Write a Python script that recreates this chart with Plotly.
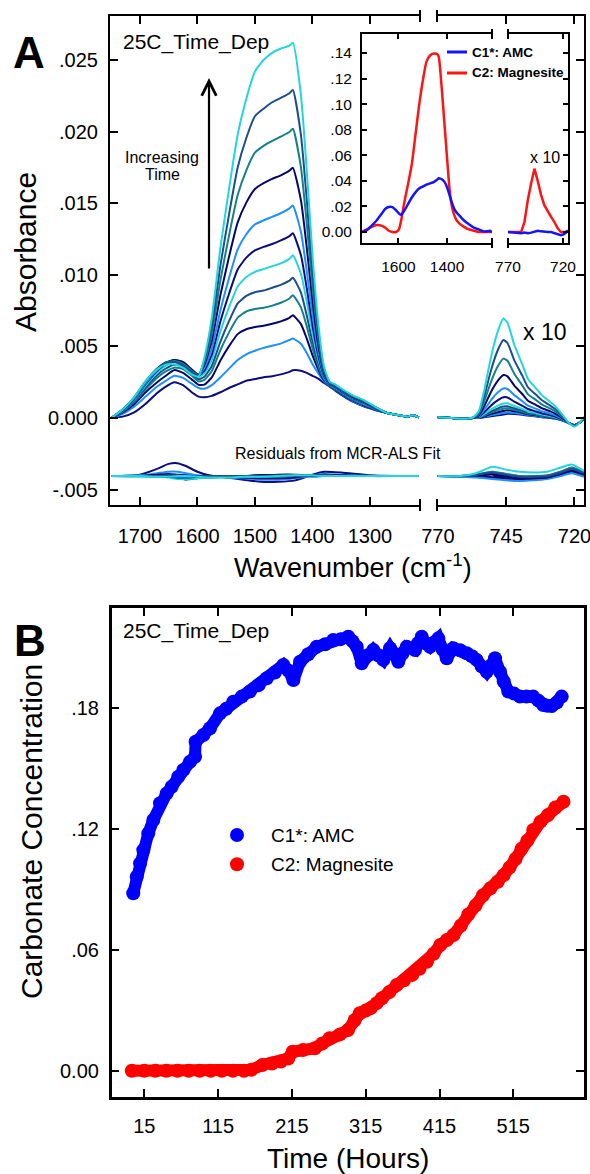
import plotly.graph_objects as go

# ---------------- data ----------------
# Panel A, left segment wavenumbers (cm-1)
WN_LEFT = [1750, 1730, 1710, 1690, 1670, 1655, 1640, 1625, 1610, 1598, 1588, 1575, 1560, 1545,
           1530, 1515, 1500, 1485, 1470, 1455, 1440, 1434, 1420, 1410, 1400, 1390, 1380, 1370,
           1360, 1345, 1330, 1310, 1290, 1270, 1250, 1235, 1225, 1215]
# Panel A, right segment wavenumbers (cm-1), shown x 10
WN_RIGHT = [770, 765, 760, 757, 755, 753, 750.5, 748, 746, 744.5, 742, 739, 737, 734, 732, 729,
            727, 724, 722, 720, 718, 716.5]

# spectra (absorbance x 1000), increasing time
L01 = [0.0, 0.1, 0.4, 1.0, 1.75, 2.2, 2.5, 2.3, 1.8, 1.5, 1.45, 1.55, 1.8, 2.1, 2.35, 2.6, 2.72, 2.85, 2.92, 3.05, 3.22, 3.34, 3.3, 3.15, 2.95, 2.75, 2.45, 2.2, 1.9, 1.5, 1.15, 0.8, 0.55, 0.35, 0.2, 0.1, 0.2, 0.05]
L02 = [0, 0.3, 0.8, 1.5, 2.2, 2.6, 2.95, 2.8, 2.4, 2.1, 2.05, 2.3, 2.85, 3.45, 4.05, 4.45, 4.7, 4.9, 5.05, 5.2, 5.45, 5.55, 5.19, 4.55, 3.78, 3.13, 2.56, 2.23, 1.94, 1.54, 1.19, 0.84, 0.57, 0.35, 0.2, 0.1, 0.2, 0.05]
L03 = [0, 0.4, 0.97, 1.8, 2.5, 2.95, 3.35, 3.15, 2.7, 2.32, 2.33, 2.84, 4.02, 5.02, 5.86, 6.2, 6.35, 6.45, 6.58, 6.75, 7.0, 7.18, 6.56, 5.56, 4.39, 3.41, 2.64, 2.26, 1.98, 1.58, 1.23, 0.88, 0.59, 0.35, 0.2, 0.1, 0.2, 0.05]
L04 = [0, 0.46, 1.1, 2.01, 2.82, 3.26, 3.52, 3.42, 2.97, 2.56, 2.66, 3.28, 4.75, 5.98, 7.01, 7.44, 7.61, 7.7, 7.85, 8.05, 8.35, 8.57, 7.73, 6.42, 4.9, 3.65, 2.71, 2.28, 2.02, 1.62, 1.27, 0.92, 0.61, 0.35, 0.2, 0.1, 0.2, 0.05]
L05 = [0, 0.49, 1.17, 2.14, 3.0, 3.46, 3.72, 3.61, 3.14, 2.71, 2.88, 3.64, 5.34, 6.77, 8.0, 8.53, 8.78, 8.9, 9.1, 9.3, 9.59, 9.8, 8.76, 7.18, 5.36, 3.86, 2.78, 2.3, 2.06, 1.66, 1.31, 0.96, 0.63, 0.35, 0.2, 0.1, 0.2, 0.05]
L06 = [0, 0.52, 1.25, 2.28, 3.18, 3.66, 3.92, 3.8, 3.3, 2.87, 3.12, 4.05, 6.06, 7.74, 9.19, 9.85, 10.21, 10.4, 10.6, 10.8, 11.11, 11.36, 10.07, 8.15, 5.93, 4.12, 2.85, 2.32, 2.1, 1.7, 1.35, 1.0, 0.65, 0.35, 0.2, 0.1, 0.2, 0.05]
L07 = [0, 0.54, 1.31, 2.38, 3.3, 3.78, 4.03, 3.9, 3.38, 2.97, 3.31, 4.42, 6.75, 8.68, 10.37, 11.2, 11.7, 11.95, 12.15, 12.4, 12.7, 12.9, 11.36, 9.1, 6.5, 4.38, 2.93, 2.34, 2.14, 1.74, 1.39, 1.04, 0.67, 0.35, 0.2, 0.1, 0.2, 0.05]
L08 = [0, 0.56, 1.34, 2.44, 3.36, 3.83, 4.05, 3.9, 3.38, 3.0, 3.48, 4.83, 7.53, 9.78, 11.77, 12.83, 13.52, 13.8, 14.05, 14.3, 14.64, 14.84, 12.99, 10.3, 7.22, 4.71, 3.03, 2.37, 2.18, 1.78, 1.43, 1.08, 0.69, 0.35, 0.2, 0.1, 0.2, 0.05]
L09 = [0, 0.57, 1.39, 2.52, 3.44, 3.88, 4.06, 3.9, 3.38, 3.04, 3.7, 5.38, 8.59, 11.27, 13.66, 15.04, 15.99, 16.4, 16.7, 16.95, 17.27, 17.47, 15.2, 11.94, 8.19, 5.16, 3.16, 2.41, 2.22, 1.82, 1.47, 1.12, 0.71, 0.35, 0.2, 0.1, 0.2, 0.05]
L10 = [0, 0.59, 1.41, 2.54, 3.44, 3.86, 3.99, 3.8, 3.3, 3.01, 3.87, 5.89, 9.63, 12.75, 15.57, 17.3, 18.53, 19.0, 19.35, 19.65, 19.97, 20.2, 17.5, 13.63, 9.2, 5.62, 3.3, 2.45, 2.26, 1.86, 1.51, 1.16, 0.73, 0.35, 0.2, 0.1, 0.2, 0.05]
L11 = [0, 0.6, 1.44, 2.57, 3.44, 3.83, 3.91, 3.7, 3.22, 2.98, 4.03, 6.4, 10.67, 14.22, 17.49, 19.55, 21.07, 21.6, 22.05, 22.35, 22.68, 22.9, 19.76, 15.3, 10.2, 6.08, 3.43, 2.49, 2.3, 1.9, 1.55, 1.2, 0.75, 0.35, 0.2, 0.1, 0.2, 0.05]
L12 = [0, 0.59, 1.44, 2.57, 3.4, 3.73, 3.74, 3.52, 3.05, 2.9, 4.2, 7.0, 11.9, 16.0, 19.8, 22.3, 24.2, 25.0, 25.5, 25.8, 26.0, 26.2, 22.54, 17.35, 11.42, 6.64, 3.6, 2.54, 2.34, 1.94, 1.59, 1.24, 0.77, 0.35, 0.2, 0.1, 0.2, 0.05]

R01 = [0.05, 0, -0.05, 0, 0, 0.06, 0.13, 0.19, 0.25, 0.3, 0.29, 0.23, 0.17, 0.11, 0.06, 0.01, -0.04, -0.2, -0.35, -0.5, -0.3, -0.05]
R02 = [0.05, 0, -0.05, 0, 0.01, 0.09, 0.19, 0.28, 0.35, 0.39, 0.36, 0.28, 0.21, 0.14, 0.08, 0.03, -0.03, -0.19, -0.35, -0.5, -0.3, -0.05]
R03 = [0.05, 0, -0.05, 0, 0.02, 0.13, 0.29, 0.41, 0.5, 0.54, 0.47, 0.36, 0.26, 0.19, 0.12, 0.05, -0.01, -0.18, -0.35, -0.5, -0.3, -0.05]
R04 = [0.05, 0, -0.05, 0, 0.03, 0.18, 0.38, 0.55, 0.65, 0.68, 0.57, 0.43, 0.32, 0.23, 0.15, 0.08, 0.01, -0.18, -0.35, -0.5, -0.3, -0.05]
R05 = [0.05, 0, -0.05, 0.01, 0.04, 0.22, 0.47, 0.68, 0.8, 0.82, 0.68, 0.51, 0.38, 0.27, 0.19, 0.1, 0.03, -0.17, -0.35, -0.5, -0.3, -0.05]
R06 = [0.05, 0, -0.05, 0.01, 0.06, 0.28, 0.61, 0.87, 1.02, 1.03, 0.84, 0.63, 0.46, 0.34, 0.24, 0.14, 0.06, -0.16, -0.35, -0.5, -0.3, -0.05]
R07 = [0.05, 0, -0.05, 0.01, 0.09, 0.4, 0.88, 1.25, 1.45, 1.44, 1.15, 0.85, 0.63, 0.46, 0.34, 0.21, 0.11, -0.14, -0.35, -0.5, -0.3, -0.05]
R08 = [0.05, 0, -0.05, 0.02, 0.13, 0.57, 1.26, 1.8, 2.07, 2.03, 1.6, 1.17, 0.86, 0.64, 0.48, 0.32, 0.19, -0.11, -0.35, -0.5, -0.3, -0.05]
R09 = [0.05, 0, -0.05, 0.03, 0.2, 0.83, 1.84, 2.61, 3.0, 2.91, 2.27, 1.66, 1.21, 0.91, 0.69, 0.48, 0.31, -0.06, -0.35, -0.5, -0.3, -0.05]
R10 = [0.05, 0, -0.05, 0.04, 0.28, 1.16, 2.55, 3.63, 4.15, 4.0, 3.09, 2.25, 1.65, 1.25, 0.96, 0.67, 0.46, 0.0, -0.35, -0.5, -0.3, -0.05]
R11 = [0.05, 0, -0.05, 0.05, 0.37, 1.52, 3.36, 4.77, 5.45, 5.24, 4.03, 2.93, 2.15, 1.62, 1.26, 0.89, 0.63, 0.06, -0.35, -0.5, -0.3, -0.05]
R12 = [0.05, 0, -0.05, 0.07, 0.47, 1.94, 4.29, 6.09, 6.95, 6.66, 5.11, 3.71, 2.72, 2.06, 1.6, 1.15, 0.83, 0.14, -0.35, -0.6, -0.3, 0.1]

# residuals from MCR-ALS fit (absorbance x 1000), drawn offset below the spectra
RES_OFFSET = -4.05
RES_WN_LEFT = [1750, 1700, 1670, 1650, 1635, 1620, 1600, 1580, 1550, 1520, 1490, 1460, 1430, 1400, 1380, 1350, 1300, 1250, 1215]
RES_WN_RIGHT = [770, 762, 756, 750, 745, 740, 735, 730, 725, 721, 716.5]
RL01 = [0, 0.1, 0.5, 0.85, 0.9, 0.7, 0.3, 0.05, -0.1, -0.25, -0.4, -0.4, -0.3, 0.1, 0.3, 0.25, 0.05, 0, 0]
RL02 = [0, 0.05, 0.2, 0.3, 0.3, 0.2, 0.05, -0.05, -0.1, -0.15, -0.25, -0.25, -0.15, 0.05, 0.15, 0.1, 0, 0, 0]
RL03 = [0, 0, 0.1, 0.15, 0.1, 0.05, -0.1, -0.1, -0.05, -0.1, -0.15, -0.15, -0.1, 0.05, 0.1, 0.05, 0, 0, 0]
RL04 = [0, 0, 0, 0.05, -0.1, -0.2, -0.1, -0.05, 0, -0.05, -0.05, -0.05, 0, 0, 0.05, 0, 0, 0, 0]
RL05 = [0, 0, -0.05, -0.05, -0.15, -0.25, -0.15, -0.05, 0, 0, 0.05, 0.05, 0, 0, 0, 0, 0, 0, 0]
RL06 = [0, -0.05, -0.05, -0.1, -0.2, -0.2, -0.15, -0.1, -0.05, 0, 0, 0, 0.05, 0, 0, 0, 0, 0, 0]
RL07 = [0, 0, 0, -0.05, -0.1, -0.1, -0.05, 0, 0, 0, 0.05, 0.05, 0.05, 0, 0, 0, 0, 0, 0]
RL08 = [0, 0, 0, 0, -0.05, -0.05, 0, 0, -0.05, -0.05, 0, 0, 0, -0.05, 0, 0, 0, 0, 0]
RL09 = [0, 0, 0.05, 0.05, 0, 0, 0, 0, 0, 0, 0.05, 0.1, 0.1, 0.05, 0, 0, 0, 0, 0]
RL10 = [0, 0, 0, 0, 0, 0, 0, 0, 0, -0.05, -0.05, 0, 0.05, 0, 0, 0, 0, 0, 0]
RL11 = [0, 0, 0, 0.05, 0.05, 0, 0, 0, 0, 0, 0, 0.05, 0, 0, 0, 0, 0, 0, 0]
RL12 = [0, 0, -0.05, -0.05, 0, 0, -0.05, -0.1, -0.1, -0.05, -0.05, 0, 0.05, 0.05, 0, 0, 0, 0, 0]
RR01 = [0, 0, 0.05, -0.1, 0.1, -0.1, -0.2, -0.1, 0.2, 0.4, 0.1]
RR02 = [0, 0, 0, -0.15, -0.2, -0.25, -0.2, -0.15, 0.1, 0.3, 0.05]
RR03 = [0, -0.05, 0, -0.1, -0.15, -0.2, -0.2, -0.1, 0.15, 0.35, 0.1]
RR04 = [0, 0, 0.05, 0.2, 0.05, -0.1, -0.1, -0.05, 0.2, 0.5, 0.2]
RR05 = [0, 0, 0.05, 0.25, 0.1, -0.05, -0.1, 0, 0.3, 0.6, 0.25]
RR06 = [0, 0, 0.1, 0.3, 0.15, 0, -0.05, 0, 0.25, 0.55, 0.2]
RR07 = [0, 0, 0, 0.15, 0, -0.15, -0.15, -0.05, 0.2, 0.45, 0.15]
RR08 = [0, -0.05, -0.1, -0.2, -0.3, -0.35, -0.3, -0.2, 0, 0.2, -0.05]
RR09 = [0, 0, 0.05, 0.1, -0.05, -0.15, -0.15, -0.1, 0.15, 0.35, 0.1]
RR10 = [0, 0, 0.1, 0.3, 0.15, 0, 0, 0.05, 0.3, 0.55, 0.25]
RR11 = [0, 0, 0.1, 0.25, 0.1, -0.05, -0.05, 0, 0.25, 0.5, 0.2]
RR12 = [0, 0, 0.2, 0.65, 0.45, 0.3, 0.25, 0.3, 0.6, 0.8, 0.35]

# inset: MCR-ALS component spectra
C1_LEFT = [0.0, 0.0015, 0.005, 0.009, 0.014, 0.018, 0.0195, 0.0195, 0.017, 0.0145, 0.0135, 0.017, 0.022, 0.027, 0.031, 0.034, 0.0355, 0.037, 0.038, 0.039, 0.041, 0.042, 0.041, 0.039, 0.035, 0.029, 0.023, 0.018, 0.015, 0.012, 0.009, 0.006, 0.0035, 0.002, 0.0005, 0.0005, 0.001, 0.0]
C2_LEFT = [0.0, 0.002, 0.004, 0.0055, 0.005, 0.0035, 0.001, 0.0, 0.0, 0.002, 0.01, 0.024, 0.038, 0.053, 0.076, 0.099, 0.118, 0.133, 0.138, 0.1395, 0.139, 0.137, 0.108, 0.083, 0.058, 0.034, 0.02, 0.013, 0.009, 0.006, 0.004, 0.002, 0.001, 0.0, 0.0, 0.0, 0.0, 0.0]
INSET_WN_RIGHT = [770, 762, 758, 755, 752, 749, 746, 743, 740, 737, 734, 731, 728, 725, 722, 720, 718, 715.5]
C1_RIGHT = [0, -0.0005, -0.001, -0.0005, -0.001, -0.0005, 0, 0.001, 0.0005, 0, 0, 0, -0.001, -0.002, -0.0025, -0.002, -0.001, 0.001]
C2_RIGHT = [0, 0, 0, 0.008, 0.025, 0.038, 0.0495, 0.04, 0.029, 0.021, 0.016, 0.012, 0.008, 0.003, 0, 0, 0, 0.001]

# Panel B: concentration profiles
T_AMC = [0, 4.7, 9.2, 13.6, 20.4, 27.2, 36.3, 45.3, 52.1, 61, 67.8, 76.9, 83.7, 84.5, 95, 104, 117.6, 126, 135.6, 147,
         158, 170, 180.9, 192, 203.4, 210, 217, 226, 237, 248.6, 260, 271, 281, 291.4, 297, 302.8, 309.6, 318, 325.3, 332,
         338.9, 348, 353, 359.2, 365, 370.6, 381.8, 386, 390.9, 396, 402.1, 408, 413.4, 419, 424.8, 433.7, 443, 451.9, 459, 465.4,
         472, 479, 485, 490.2, 497, 502, 508.2, 516, 524, 533, 542, 549, 555.6, 561, 567, 574, 580.6]
C_AMC = [0.088, 0.0962, 0.1028, 0.1094, 0.1177, 0.1243, 0.1326, 0.1375, 0.1408, 0.1458, 0.1491, 0.1532, 0.1557, 0.1631, 0.1665, 0.1698, 0.1772, 0.1795, 0.183, 0.1855,
         0.188, 0.1912, 0.1946, 0.1975, 0.2012, 0.1985, 0.1937, 0.2028, 0.2065, 0.2102, 0.2115, 0.2136, 0.214, 0.2152, 0.213, 0.2102, 0.202, 0.206, 0.2086, 0.206,
         0.2037, 0.2095, 0.207, 0.2028, 0.207, 0.2102, 0.2086, 0.212, 0.2152, 0.212, 0.2102, 0.2125, 0.2144, 0.209, 0.2045, 0.2095, 0.2085, 0.207, 0.2055, 0.2037,
         0.2005, 0.1978, 0.201, 0.2045, 0.1978, 0.193, 0.188, 0.187, 0.1855, 0.1855, 0.1855, 0.1835, 0.1813, 0.181, 0.1808, 0.1825, 0.1855]
T_MAG = [-2, 15, 30, 45, 60, 75, 90, 105, 120, 135, 150, 160, 175, 188, 200, 210, 216, 230, 246, 256,
         266, 280, 291, 300, 307, 315, 322, 330, 337, 347, 357, 367, 378, 388, 398, 407, 416, 425, 434, 444,
         454, 464, 474, 484, 494, 502, 510, 518, 526, 534, 542, 552, 562, 572, 583]
C_MAG = [0, 0, 0, 0, 0, 0, 0, 0, 0, 0, 0, 0.0005, 0.0028, 0.0036, 0.0045, 0.006, 0.0094, 0.0102, 0.0111, 0.0135,
         0.0161, 0.018, 0.0202, 0.025, 0.0285, 0.0298, 0.031, 0.0335, 0.0359, 0.039, 0.0425, 0.0448, 0.0475, 0.0505, 0.054, 0.058, 0.0623, 0.0648, 0.0673, 0.072,
         0.0775, 0.082, 0.087, 0.0905, 0.0937, 0.097, 0.1008, 0.105, 0.11, 0.114, 0.1194, 0.1235, 0.1268, 0.1305, 0.1334]

# tick labels
A_YTICKS = [-5, 0, 5, 10, 15, 20, 25]
A_YTEXT = ["-.005", "0.000", ".005", ".010", ".015", ".020", ".025"]
A_XTICKS_LEFT = [1700, 1600, 1500, 1400, 1300]
A_XTICKS_RIGHT = [770, 745, 720]
IN_YTICKS = [0, 0.02, 0.04, 0.06, 0.08, 0.10, 0.12, 0.14]
IN_YTEXT = ["0.00", ".02", ".04", ".06", ".08", ".10", ".12", ".14"]
B_XTICKS = [15, 115, 215, 315, 415, 515]
B_YTICKS = [0, 0.06, 0.12, 0.18]
B_YTEXT = ["0.00", ".06", ".12", ".18"]

# ---------------- styling ----------------
W, H = 590, 1174
FONT = "Liberation Sans, Arial, sans-serif"
PALETTE = ["#0c0c7c", "#1e8fff", "#07076a", "#148088", "#1b4e8c", "#23d6dc"]


def px(x):
    return x / W


def py(y):
    return 1 - y / H


SPEC_L = [L01, L02, L03, L04, L05, L06, L07, L08, L09, L10, L11, L12]
SPEC_R = [R01, R02, R03, R04, R05, R06, R07, R08, R09, R10, R11, R12]
RES_L = [RL01, RL02, RL03, RL04, RL05, RL06, RL07, RL08, RL09, RL10, RL11, RL12]
RES_R = [RR01, RR02, RR03, RR04, RR05, RR06, RR07, RR08, RR09, RR10, RR11, RR12]

fig = go.Figure()

for i in range(12):
    col = PALETTE[i % 6]
    fig.add_trace(go.Scatter(x=RES_WN_LEFT, y=[RES_OFFSET + v for v in RES_L[i]], xaxis="x", yaxis="y",
                             mode="lines", line=dict(color=col, width=2, shape="spline", smoothing=0.6),
                             showlegend=False, hoverinfo="skip"))
    fig.add_trace(go.Scatter(x=RES_WN_RIGHT, y=[RES_OFFSET + v for v in RES_R[i]], xaxis="x2", yaxis="y2",
                             mode="lines", line=dict(color=col, width=2, shape="spline", smoothing=0.6),
                             showlegend=False, hoverinfo="skip"))
for i in range(12):
    col = PALETTE[i % 6]
    fig.add_trace(go.Scatter(x=WN_LEFT, y=SPEC_L[i], xaxis="x", yaxis="y", mode="lines",
                             line=dict(color=col, width=2, shape="spline", smoothing=0.5),
                             showlegend=False, hoverinfo="skip"))
    fig.add_trace(go.Scatter(x=WN_RIGHT, y=SPEC_R[i], xaxis="x2", yaxis="y2", mode="lines",
                             line=dict(color=col, width=2, shape="spline", smoothing=0.5),
                             showlegend=False, hoverinfo="skip"))

# inset
RED, BLUE = "#ff1414", "#1414ff"
fig.add_trace(go.Scatter(x=WN_LEFT, y=C2_LEFT, xaxis="x3", yaxis="y3", mode="lines",
                         line=dict(color=RED, width=2.5, shape="spline", smoothing=0.5), showlegend=False))
fig.add_trace(go.Scatter(x=WN_LEFT, y=C1_LEFT, xaxis="x3", yaxis="y3", mode="lines",
                         line=dict(color=BLUE, width=2.5, shape="spline", smoothing=0.5), showlegend=False))
fig.add_trace(go.Scatter(x=INSET_WN_RIGHT, y=C2_RIGHT, xaxis="x4", yaxis="y4", mode="lines",
                         line=dict(color=RED, width=2.5), showlegend=False))
fig.add_trace(go.Scatter(x=INSET_WN_RIGHT, y=C1_RIGHT, xaxis="x4", yaxis="y4", mode="lines",
                         line=dict(color=BLUE, width=2.5), showlegend=False))

# panel B
BBLUE, BRED = "#0000ff", "#ff0000"
for t, c, col in [(T_AMC, C_AMC, BBLUE), (T_MAG, C_MAG, BRED)]:
    fig.add_trace(go.Scatter(x=t, y=c, xaxis="x5", yaxis="y5", mode="lines",
                             line=dict(color=col, width=12), showlegend=False, hoverinfo="skip"))
    fig.add_trace(go.Scatter(x=t, y=c, xaxis="x5", yaxis="y5", mode="markers",
                             marker=dict(color=col, size=14, line=dict(width=0)), showlegend=False))


def axis(**kw):
    d = dict(showline=True, linecolor="black", linewidth=2, ticks="inside", ticklen=8, tickwidth=2,
             tickcolor="black", showgrid=False, zeroline=False, automargin=False,
             ticklabeloverflow="allow",
             tickfont=dict(size=20, family=FONT, color="black"))
    d.update(kw)
    return d


A_TOP, A_BOT = 16, 505
IN_TOP, IN_BOT = 34, 243
B_TOP, B_BOT = 608.3, 1096.7

fig.update_layout(
    template="none",
    width=W, height=H, autosize=False,
    margin=dict(l=0, r=0, t=0, b=0, pad=0),
    paper_bgcolor="white", plot_bgcolor="rgba(0,0,0,0)",
    font=dict(family=FONT, color="black"),
    showlegend=False,
    xaxis=axis(domain=[px(110), px(420)], anchor="y", range=[1752, 1213], mirror="ticks",
               tickvals=A_XTICKS_LEFT, ticklabelstandoff=12),
    xaxis2=axis(domain=[px(437), px(584)], anchor="y2", range=[770.3, 716.5], mirror="ticks",
                tickvals=A_XTICKS_RIGHT, ticklabelstandoff=12),
    yaxis=axis(domain=[py(A_BOT), py(A_TOP)], anchor="x", range=[-6.07, 28.07],
               tickvals=A_YTICKS, ticktext=A_YTEXT, ticklabelstandoff=6),
    yaxis2=axis(domain=[py(A_BOT), py(A_TOP)], anchor="x2", side="right", range=[-6.07, 28.07],
                tickvals=A_YTICKS, showticklabels=False),
    xaxis3=axis(domain=[px(362), px(492)], anchor="y3", range=[1750, 1215], mirror="ticks",
                tickvals=[1600, 1400], ticklen=5, tickfont=dict(size=15.5, family=FONT, color="black"),
                ticklabelstandoff=8),
    xaxis4=axis(domain=[px(508), px(568)], anchor="y4", range=[770, 715.5], mirror="ticks",
                tickvals=[770, 720], ticklen=5, tickfont=dict(size=15.5, family=FONT, color="black"),
                ticklabelstandoff=8),
    yaxis3=axis(domain=[py(IN_BOT), py(IN_TOP)], anchor="x3", range=[-0.0086, 0.1548],
                tickvals=IN_YTICKS, ticktext=IN_YTEXT, ticklen=5,
                tickfont=dict(size=15.5, family=FONT, color="black"), ticklabelstandoff=5),
    yaxis4=axis(domain=[py(IN_BOT), py(IN_TOP)], anchor="x4", side="right", range=[-0.0086, 0.1548],
                tickvals=IN_YTICKS, ticklen=5, showticklabels=False),
    xaxis5=axis(domain=[px(111.7), px(584)], anchor="y5", range=[-29.2, 610.8], mirror="ticks",
                tickvals=B_XTICKS, linewidth=2.5, ticklabelstandoff=10),
    yaxis5=axis(domain=[py(B_BOT), py(B_TOP)], anchor="x5", range=[-0.0129, 0.2293], mirror="ticks",
                tickvals=B_YTICKS, ticktext=B_YTEXT, linewidth=2.5, ticklabelstandoff=6),
)

# axis-break caps
shapes = []
for xb in (420, 437):
    for yb in (A_TOP, A_BOT):
        shapes.append(dict(type="line", xref="paper", yref="paper", x0=px(xb), x1=px(xb),
                           y0=py(yb - 6), y1=py(yb + 6), line=dict(color="black", width=2)))
for xb in (492, 508):
    for yb in (IN_TOP, IN_BOT):
        shapes.append(dict(type="line", xref="paper", yref="paper", x0=px(xb), x1=px(xb),
                           y0=py(yb - 5), y1=py(yb + 5), line=dict(color="black", width=2)))
# inset legend lines
shapes.append(dict(type="line", xref="paper", yref="paper", x0=px(447), x1=px(467), y0=py(52), y1=py(52),
                   line=dict(color=BLUE, width=3)))
shapes.append(dict(type="line", xref="paper", yref="paper", x0=px(447), x1=px(467), y0=py(73), y1=py(73),
                   line=dict(color=RED, width=3)))
# panel B legend symbols
for yc, col in ((835, BBLUE), (864.3, BRED)):
    shapes.append(dict(type="circle", xref="paper", yref="paper", x0=px(230), x1=px(244),
                       y0=py(yc + 7), y1=py(yc - 7), fillcolor=col, line=dict(width=0)))
fig.update_layout(shapes=shapes)


def note(text, x, y, size, xanchor="center", angle=0, bold=False):
    fig.add_annotation(text=f"<b>{text}</b>" if bold else text, x=px(x), y=py(y), xref="paper", yref="paper",
                       xanchor=xanchor, yanchor="middle", showarrow=False, textangle=angle,
                       font=dict(size=size, family=FONT, color="black"))


note("A", 29, 53, 44, bold=True)
note("B", 30, 640, 44, bold=True)
note("25C_Time_Dep", 121, 42, 21, xanchor="left")
note("25C_Time_Dep", 121, 631, 21, xanchor="left")
note("Increasing", 162, 157, 16)
note("Time", 162, 174, 16)
note("Residuals from MCR-ALS Fit", 338, 454, 16)
note("x 10", 544, 332, 23)
note("x 10", 545, 157, 16)
note("C1*: AMC", 470, 52, 13.5, xanchor="left", bold=True)
note("C2: Magnesite", 470, 73, 13.5, xanchor="left", bold=True)
note("C1*: AMC", 269, 835, 19, xanchor="left")
note("C2: Magnesite", 269, 864.3, 19, xanchor="left")
note("Absorbance", 26, 252, 30, angle=-90)
note("Wavenumber (cm<sup>-1</sup>)", 353, 566, 27)
note("Carbonate Concentration", 31, 832, 30, angle=-90)
note("Time (Hours)", 348, 1158, 28)

# "Increasing Time" arrow
fig.add_annotation(x=px(209), y=py(78), xref="paper", yref="paper", text="", showarrow=True,
                   ax=0, ay=192, arrowhead=5, arrowsize=1.3, arrowwidth=2.2, arrowcolor="black", standoff=0)

# remove the default page margin so the 590x1174 figure fills the window exactly
fig.write_html("out.html", config={"displayModeBar": False},
               post_script="document.body.style.margin='0';document.body.style.overflow='hidden';")
